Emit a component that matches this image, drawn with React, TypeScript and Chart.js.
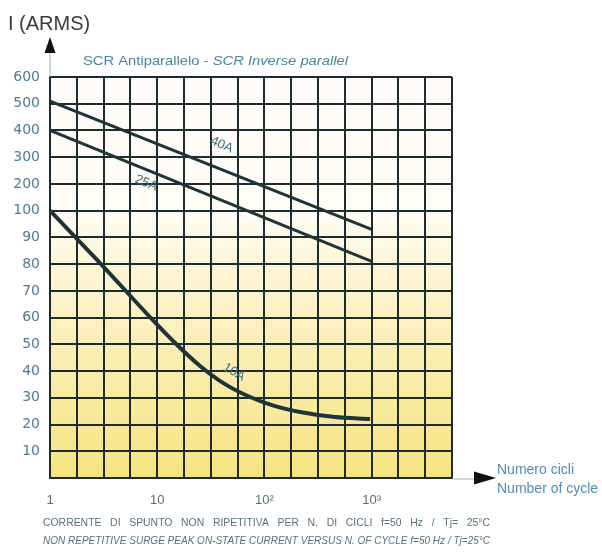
import React, { useEffect, useRef } from 'react';
import { Chart, registerables } from 'chart.js';

Chart.register(...registerables);

// Vertical axis: each grid row is one step; 10 A per row up to 100, then 100 A per row.
const yTickLabels = ['', '10', '20', '30', '40', '50', '60', '70', '80', '90', '100', '200', '300', '400', '500', '600'];
// Horizontal axis: number of cycles, four grid columns per decade.
const xTickLabels = ['1', '10', '10²', '10³'];

const curveNames = ['40A', '25A', '10A'];

const cycles40A = [1, 1000];
const current40A = [510, 93];

const cycles25A = [1, 1000];
const current25A = [400, 81];

const cycles10A = [1, 2.93, 8.57, 14.7, 25.1, 42.9, 73.4, 126, 215, 456, 966];
const current10A = [100, 80.4, 60.2, 50.5, 41.9, 35.1, 30.3, 26.9, 24.7, 22.8, 22.1];

// Where each curve name sits (cycles, amperes)
const labelCycles = [40, 7.9, 52];
const labelCurrents = [346, 203, 39.6];

const GRID = '#1c2d31';
const TEXT = '#4b7d92';
const CURVE = '#1d3439';

function toRow(a: number): number {
  return a <= 100 ? a / 10 : 10 + (a - 100) / 100;
}

function series(cycles: number[], amps: number[]) {
  return cycles.map((c, i) => ({ x: c, y: toRow(amps[i]) }));
}

function drawRuns(
  ctx: CanvasRenderingContext2D,
  runs: { text: string; font: string }[],
  x: number,
  y: number,
  width: number
) {
  let total = 0;
  for (const r of runs) {
    ctx.font = r.font;
    total += ctx.measureText(r.text).width;
  }
  const k = width / total;
  ctx.save();
  ctx.translate(x, y);
  ctx.scale(k, 1);
  let cx = 0;
  for (const r of runs) {
    ctx.font = r.font;
    ctx.fillText(r.text, cx, 0);
    cx += ctx.measureText(r.text).width;
  }
  ctx.restore();
}

const decorations = {
  id: 'decorations',
  beforeDraw(chart: any) {
    const { ctx, chartArea: a } = chart;
    const g = ctx.createLinearGradient(0, a.top, 0, a.bottom);
    g.addColorStop(0, '#fffbf9');
    g.addColorStop(0.33, '#fffdf4');
    g.addColorStop(0.5, '#fdf5d2');
    g.addColorStop(1, '#f7e37f');
    ctx.save();
    ctx.fillStyle = g;
    ctx.fillRect(a.left, a.top, a.right - a.left, a.bottom - a.top);
    ctx.restore();
  },
  afterDraw(chart: any) {
    const { ctx, chartArea: a, scales } = chart;
    ctx.save();
    ctx.textBaseline = 'middle';
    ctx.textAlign = 'left';

    // axis name
    ctx.fillStyle = '#3a3a3a';
    ctx.font = '20px "Liberation Sans", sans-serif';
    ctx.fillText('I (ARMS)', 8, 24);

    // subtitle
    ctx.fillStyle = '#4a86a0';
    drawRuns(
      ctx,
      [
        { text: 'SCR Antiparallelo - ', font: '13px "Liberation Sans", sans-serif' },
        { text: 'SCR Inverse parallel', font: 'italic 13px "Liberation Sans", sans-serif' },
      ],
      83,
      61,
      265
    );

    // vertical axis arrow
    ctx.strokeStyle = '#9fb3bb';
    ctx.lineWidth = 1;
    ctx.beginPath();
    ctx.moveTo(a.left, 52);
    ctx.lineTo(a.left, a.top);
    ctx.stroke();
    ctx.fillStyle = '#111';
    ctx.beginPath();
    ctx.moveTo(a.left, 37);
    ctx.lineTo(a.left - 5.5, 53);
    ctx.lineTo(a.left + 5.5, 53);
    ctx.closePath();
    ctx.fill();

    // horizontal axis arrow
    ctx.beginPath();
    ctx.moveTo(a.right, a.bottom + 1);
    ctx.lineTo(476, a.bottom + 1);
    ctx.stroke();
    ctx.beginPath();
    ctx.moveTo(496, a.bottom);
    ctx.lineTo(474, a.bottom - 6.5);
    ctx.lineTo(474, a.bottom + 6.5);
    ctx.closePath();
    ctx.fill();

    ctx.fillStyle = '#4f8db5';
    ctx.font = '14px "Liberation Sans", sans-serif';
    ctx.fillText('Numero cicli', 497, 470);
    ctx.fillText('Number of cycle', 497, 489);

    // captions
    ctx.fillStyle = '#56717d';
    ctx.font = '11px "Liberation Sans", sans-serif';
    ctx.fillText(
      'CORRENTE   DI   SPUNTO   NON   RIPETITIVA   PER   N.   DI   CICLI   f=50   Hz   /   Tj=   25°C',
      43,
      523,
      447
    );
    ctx.font = 'italic 11px "Liberation Sans", sans-serif';
    ctx.fillText(
      'NON REPETITIVE SURGE PEAK ON-STATE CURRENT VERSUS N. OF CYCLE f=50 Hz / Tj=25°C',
      43,
      541,
      447
    );

    // curve names
    const angles = [24, 22, 30];
    ctx.fillStyle = '#3f6d80';
    ctx.font = '13px "Liberation Sans", sans-serif';
    ctx.textAlign = 'center';
    curveNames.forEach((name, i) => {
      const px = scales.x.getPixelForValue(labelCycles[i]);
      const py = scales.y.getPixelForValue(toRow(labelCurrents[i]));
      ctx.save();
      ctx.translate(px, py);
      ctx.rotate((angles[i] * Math.PI) / 180);
      ctx.fillText(name, 0, 0);
      ctx.restore();
    });
    ctx.restore();
  },
};

export default function App() {
  const ref = useRef<HTMLCanvasElement | null>(null);

  useEffect(() => {
    if (!ref.current) return;
    const chart = new Chart(ref.current, {
      type: 'line',
      data: {
        datasets: [
          {
            label: curveNames[0],
            data: series(cycles40A, current40A),
            borderColor: CURVE,
            borderWidth: 3,
            pointRadius: 0,
            tension: 0,
          },
          {
            label: curveNames[1],
            data: series(cycles25A, current25A),
            borderColor: CURVE,
            borderWidth: 3,
            pointRadius: 0,
            tension: 0,
          },
          {
            label: curveNames[2],
            data: series(cycles10A, current10A),
            borderColor: CURVE,
            borderWidth: 4,
            pointRadius: 0,
            cubicInterpolationMode: 'monotone',
          },
        ],
      },
      options: {
        animation: false,
        responsive: false,
        devicePixelRatio: 1,
        layout: { padding: { top: 77, right: 150, bottom: 30, left: 0 } },
        plugins: { legend: { display: false }, tooltip: { enabled: false }, title: { display: false } },
        scales: {
          x: {
            type: 'logarithmic',
            min: 1,
            max: Math.pow(10, 3.75),
            afterBuildTicks: (s: any) => {
              s.ticks = Array.from({ length: 16 }, (_, k) => ({ value: Math.pow(10, k / 4) }));
            },
            afterFit: (s: any) => {
              s.height = 44;
            },
            ticks: {
              autoSkip: false,
              maxRotation: 0,
              padding: 15,
              color: '#5a6e76',
              font: { family: '"Liberation Sans", sans-serif', size: 13 },
              callback: (_v: any, i: number) => (i % 4 === 0 ? xTickLabels[i / 4] : ''),
            },
            grid: { color: GRID, lineWidth: 2, drawTicks: false },
            border: { color: GRID, width: 2 },
          },
          y: {
            type: 'linear',
            min: 0,
            max: 15,
            afterFit: (s: any) => {
              s.width = 50;
            },
            ticks: {
              stepSize: 1,
              padding: 10,
              color: TEXT,
              font: { family: '"DejaVu Sans", sans-serif', size: 14 },
              callback: (v: any) => yTickLabels[Math.round(Number(v))] ?? '',
            },
            grid: { color: GRID, lineWidth: 2, drawTicks: false },
            border: { color: GRID, width: 2 },
          },
        },
      },
      plugins: [decorations],
    } as any);
    return () => chart.destroy();
  }, []);

  return (
    <div style={{ position: 'absolute', left: 0, top: 0, width: 602, height: 552, background: '#fff' }}>
      <canvas ref={ref} width={602} height={552} />
    </div>
  );
}
